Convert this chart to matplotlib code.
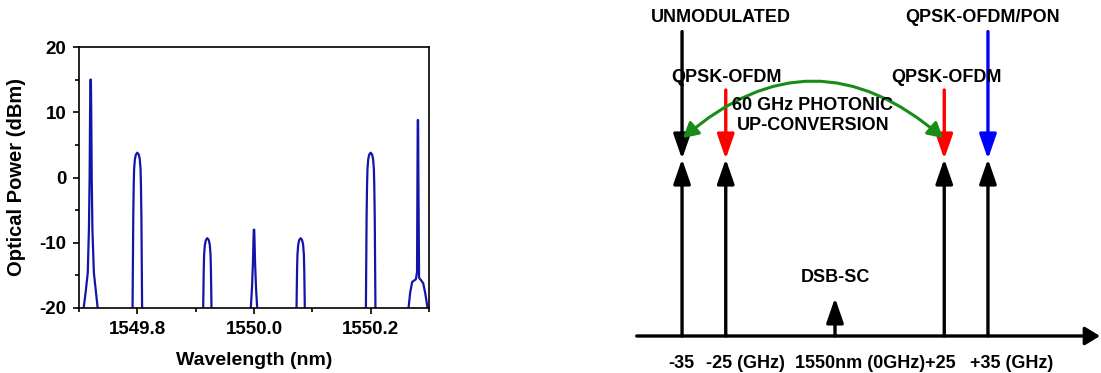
import matplotlib
matplotlib.use("Agg")
import matplotlib.pyplot as plt
from matplotlib.patches import FancyArrowPatch
from matplotlib.ticker import MultipleLocator

plt.rcParams['font.family'] = ['Liberation Sans', 'DejaVu Sans']
plt.rcParams['font.weight'] = 'bold'
plt.rcParams['axes.unicode_minus'] = False

# ---------------- Left panel data (optical spectrum) ----------------
peak_centers_nm = [1549.72, 1549.80, 1549.92, 1550.00, 1550.08, 1550.20, 1550.281]
peak_powers_dbm = [15.0, 3.8, -9.3, -8.0, -9.3, 3.8, 8.8]
peak_kinds = ["spike", "round", "round", "spike_small", "round", "round", "spike_pedestal"]

# rounded (modulated) peak outline: dB below the peak -> half width (nm)
round_drop_db = [0.0, 0.3, 1.0, 2.5, 5.0, 10.0, 24.0, 30.0]
round_halfwidth_nm = [0.0, 0.0025, 0.0042, 0.0055, 0.0062, 0.0070, 0.0082, 0.0086]

# strong carrier outline (offset nm, power dBm)
spike_offsets = [-0.014, -0.012, -0.0085, -0.005, -0.003, -0.0018, -0.0010, -0.0004,
                 0.0004, 0.0010, 0.0018, 0.003, 0.0055, 0.009, 0.012, 0.014]
spike_powers = [-24, -20, -17.5, -14.6, -8, 0, 10, 15,
                15, 10, 0, -8, -14.6, -17.5, -20, -24]

# weak central carrier outline
small_offsets = [-0.0075, -0.0055, -0.0035, -0.0018, -0.0010, -0.0004,
                 0.0004, 0.0010, 0.0018, 0.0035, 0.0055, 0.0075]
small_powers = [-24, -20, -17, -13, -10, -8,
                -8, -10, -13, -17, -20, -24]

# carrier with pedestal (right)
ped_offsets = [-0.019, -0.0161, -0.0132, -0.0098, -0.0035, -0.0015, -0.0008, -0.0003,
               0.0003, 0.0008, 0.0020, 0.0050, 0.0090, 0.0125, 0.0165, 0.019]
ped_powers = [-24, -20, -17.6, -16.0, -15.6, -14.5, 0, 8.8,
              8.8, 0, -15.4, -15.7, -16.2, -17.7, -20, -24]

x_ticks = [1549.8, 1550.0, 1550.2]
x_tick_labels = ["1549.8", "1550.0", "1550.2"]
y_ticks = [-20, -10, 0, 10, 20]

# ---------------- Right panel data (spectrum diagram) ----------------
freqs_ghz = [-35, -25, 0, 25, 35]
up_heights = [1.0, 1.0, 0.215, 1.0, 1.0]
down_freqs_ghz = [-35, -25, 25, 35]
down_starts = [1.72, 1.39, 1.39, 1.72]
down_colors = ["black", "red", "red", "blue"]

# ---------------- Build spectrum trace ----------------
wl, pw = [], []
for c, p, k in zip(peak_centers_nm, peak_powers_dbm, peak_kinds):
    if k == "round":
        left = [(c - w, p - d) for d, w in zip(round_drop_db, round_halfwidth_nm)][::-1]
        right = [(c + w, p - d) for d, w in zip(round_drop_db, round_halfwidth_nm)][1:]
        pts = left + right
    elif k == "spike":
        pts = [(c + o, v) for o, v in zip(spike_offsets, spike_powers)]
    elif k == "spike_small":
        pts = [(c + o, v) for o, v in zip(small_offsets, small_powers)]
    else:
        pts = [(c + o, v) for o, v in zip(ped_offsets, ped_powers)]
    for x, y in pts:
        wl.append(x)
        pw.append(y)

W, H = 1101, 373
fig = plt.figure(figsize=(W / 100, H / 100), dpi=100)

ax = fig.add_axes([79 / W, 1 - 308 / H, 350 / W, 261 / H])
ax.plot(wl, pw, color="#1414a8", lw=1.6, solid_joinstyle="round")
ax.set_xlim(1549.70, 1550.30)
ax.set_ylim(-20, 20)
ax.set_xticks(x_ticks)
ax.set_xticklabels(x_tick_labels)
ax.set_yticks(y_ticks)
ax.xaxis.set_minor_locator(MultipleLocator(0.1))
ax.yaxis.set_minor_locator(MultipleLocator(5))
ax.tick_params(which="both", direction="out", width=1.2, top=False, right=False)
ax.tick_params(which="major", length=4, pad=5, labelsize=13.5)
ax.tick_params(which="minor", length=3)
for lab in ax.get_xticklabels() + ax.get_yticklabels():
    lab.set_fontweight("bold")
for s in ax.spines.values():
    s.set_linewidth(1.2)
ax.set_xlabel("Wavelength (nm)", fontsize=14, fontweight="bold")
ax.set_ylabel("Optical Power (dBm)", fontsize=14.5, fontweight="bold")
ax.xaxis.set_label_coords(0.5, -(352 - 308) / 261)
ax.yaxis.set_label_coords(-(79 - 26) / 350, 0.5)

# ---------------- Right diagram ----------------
px_per_ghz = 4.37
x0px = 835.0
base_px = 336.0
unit_px = 177.0
axr = fig.add_axes([600 / W, 0, 501 / W, 1])
axr.set_xlim((600 - x0px) / px_per_ghz, (1101 - x0px) / px_per_ghz)
axr.set_ylim(-(H - base_px) / unit_px, base_px / unit_px)
axr.axis("off")

def yv(py):
    return (base_px - py) / unit_px

def xv(px):
    return (px - x0px) / px_per_ghz

lw_arrow = 2.4

def varrow(x, y0, y1, color):
    a = FancyArrowPatch((x, y0), (x, y1), arrowstyle="-|>,head_length=1.5,head_width=0.52",
                        mutation_scale=10, color=color, lw=lw_arrow, shrinkA=0, shrinkB=0)
    axr.add_patch(a)

# horizontal frequency axis
axr.add_patch(FancyArrowPatch((xv(636.7), 0), (xv(1100), 0),
                              arrowstyle="-|>,head_length=0.9,head_width=0.55",
                              mutation_scale=10, color="black", lw=lw_arrow,
                              shrinkA=0, shrinkB=0))
for f, h in zip(freqs_ghz, up_heights):
    varrow(f, 0, h, "black")
for f, s, c in zip(down_freqs_ghz, down_starts, down_colors):
    varrow(f, s, 1.0, c)

# green up-conversion arc
arc = FancyArrowPatch((xv(943), yv(138)), (xv(683), yv(138)),
                      connectionstyle="arc3,rad=0.43",
                      arrowstyle="<|-|>,head_length=0.9,head_width=0.5",
                      mutation_scale=10, color="#178c17", lw=2.2,
                      shrinkA=0, shrinkB=0)
axr.add_patch(arc)

fs = 13.0
def label(px, py, s):
    axr.text(xv(px), yv(py), s, ha="center", va="center", fontsize=fs, fontweight="bold")

label(721, 18, "UNMODULATED")
label(983, 18, "QPSK-OFDM/PON")
label(727, 77, "QPSK-OFDM")
label(946, 77, "QPSK-OFDM")
label(813, 106, "60 GHz PHOTONIC")
label(813, 125, "UP-CONVERSION")
label(835, 277, "DSB-SC")
label(681, 363, "-35")
label(745.5, 363, "-25 (GHz)")
label(875.5, 363, "1550nm (0GHz)+25")
label(1012, 363, "+35 (GHz)")

fig.savefig("out.png", dpi=100)
